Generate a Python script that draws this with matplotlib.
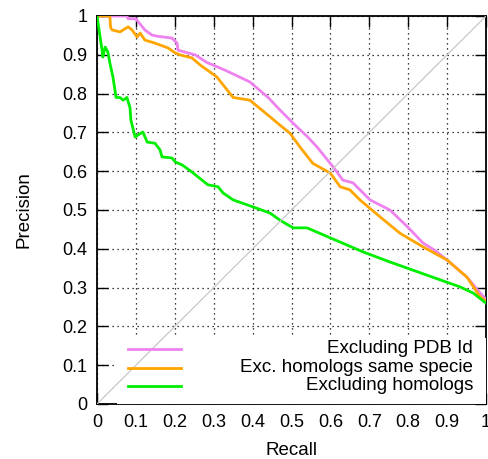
import matplotlib
matplotlib.use("Agg")
import matplotlib.pyplot as plt
from matplotlib.patches import Rectangle

plt.rcParams['font.family'] = ['Liberation Sans', 'DejaVu Sans']

# Series: Excluding PDB Id
pdb_recall = [0, 0.077, 0.08, 0.1, 0.106, 0.123, 0.141, 0.154, 0.193, 0.206, 0.208, 0.226,
              0.252, 0.283, 0.33, 0.393, 0.44, 0.47, 0.496, 0.514, 0.54, 0.566, 0.607, 0.632,
              0.658, 0.702, 0.753, 0.8, 0.838, 0.87, 0.9, 0.951, 0.985, 1.0]
pdb_precision = [1, 1, 0.993, 0.993, 0.985, 0.964, 0.951, 0.948, 0.943, 0.93, 0.912, 0.907,
                 0.9, 0.88, 0.86, 0.83, 0.79, 0.758, 0.732, 0.714, 0.69, 0.662, 0.611, 0.577,
                 0.57, 0.526, 0.5, 0.455, 0.415, 0.395, 0.371, 0.327, 0.286, 0.27]

# Series: Exc. homologs same specie
spec_recall = [0, 0.033, 0.035, 0.039, 0.059, 0.08, 0.09, 0.103, 0.111, 0.123, 0.149, 0.182,
               0.201, 0.213, 0.244, 0.265, 0.308, 0.35, 0.393, 0.445, 0.47, 0.496, 0.522,
               0.555, 0.6, 0.625, 0.65, 0.676, 0.728, 0.779, 0.838, 0.9, 0.951, 0.985, 1.0]
spec_precision = [1, 1, 0.97, 0.964, 0.959, 0.972, 0.964, 0.946, 0.956, 0.938, 0.93, 0.918,
                  0.905, 0.9, 0.892, 0.874, 0.843, 0.79, 0.783, 0.74, 0.719, 0.698, 0.662,
                  0.62, 0.595, 0.56, 0.552, 0.526, 0.482, 0.44, 0.405, 0.371, 0.327, 0.276,
                  0.265]

# Series: Excluding homologs
hom_recall = [0, 0.008, 0.013, 0.015, 0.021, 0.028, 0.033, 0.041, 0.049, 0.059, 0.067, 0.077,
              0.085, 0.087, 0.098, 0.105, 0.118, 0.129, 0.149, 0.162, 0.167, 0.193, 0.201,
              0.219, 0.244, 0.26, 0.285, 0.311, 0.324, 0.35, 0.401, 0.445, 0.47, 0.504, 0.54,
              0.6, 0.684, 0.753, 0.812, 0.882, 0.933, 0.967, 1.0]
hom_precision = [1, 0.946, 0.912, 0.894, 0.92, 0.907, 0.879, 0.843, 0.79, 0.79, 0.783, 0.79,
                 0.763, 0.732, 0.688, 0.693, 0.701, 0.675, 0.672, 0.655, 0.637, 0.634, 0.624,
                 0.616, 0.598, 0.585, 0.565, 0.56, 0.544, 0.526, 0.508, 0.492, 0.474, 0.454,
                 0.454, 0.428, 0.392, 0.366, 0.345, 0.32, 0.302, 0.286, 0.26]

labels = ["Excluding PDB Id", "Exc. homologs same specie", "Excluding homologs"]
colors = ["#ee82ee", "#ffa500", "#00ee00"]
ticks = [0, 0.1, 0.2, 0.3, 0.4, 0.5, 0.6, 0.7, 0.8, 0.9, 1]
tick_labels = ["0", "0.1", "0.2", "0.3", "0.4", "0.5", "0.6", "0.7", "0.8", "0.9", "1"]

fig = plt.figure(figsize=(4.88, 4.59), dpi=100)
ax = fig.add_axes([97/488, 55/459, 389/488, 388/459])

ax.set_xlim(0, 1)
ax.set_ylim(0, 1)
ax.set_xticks(ticks)
ax.set_yticks(ticks)
ax.set_xticklabels(tick_labels)
ax.set_yticklabels(tick_labels)
ax.tick_params(direction='in', length=8, width=1, top=True, right=True,
               labelsize=13, pad=7, colors='black')
ax.grid(True, linestyle=(0, (1, 3)), color='black', linewidth=0.9)
ax.set_axisbelow(True)
for s in ax.spines.values():
    s.set_linewidth(1.3)

ax.set_xlabel("Recall", fontsize=13.5, labelpad=8)
ax.set_ylabel("Precision", fontsize=13.5, labelpad=21)

series = [(pdb_recall, pdb_precision), (spec_recall, spec_precision), (hom_recall, hom_precision)]
for (r, p), c in zip(series, colors):
    ax.plot(r, p, color=c, linewidth=2.0, zorder=3)

# legend background (opaque key box)
ax.add_patch(Rectangle((0.051, 0.0), 0.949, 0.17, transform=ax.transAxes,
                       facecolor='white', edgecolor='none', zorder=4))
ax.plot([0, 1], [0, 1], color='#c8c8c8', linewidth=0.9, zorder=5)

ys = [0.1418, 0.0928, 0.0464]
for lab, c, y in zip(labels, colors, ys):
    ax.plot([0.0797, 0.216], [y, y], color=c, linewidth=2.0, transform=ax.transAxes, zorder=6)
    ax.text(0.967, y, lab, transform=ax.transAxes, ha='right', va='center',
            fontsize=13.5, zorder=6)

fig.savefig("out.png", dpi=100)
